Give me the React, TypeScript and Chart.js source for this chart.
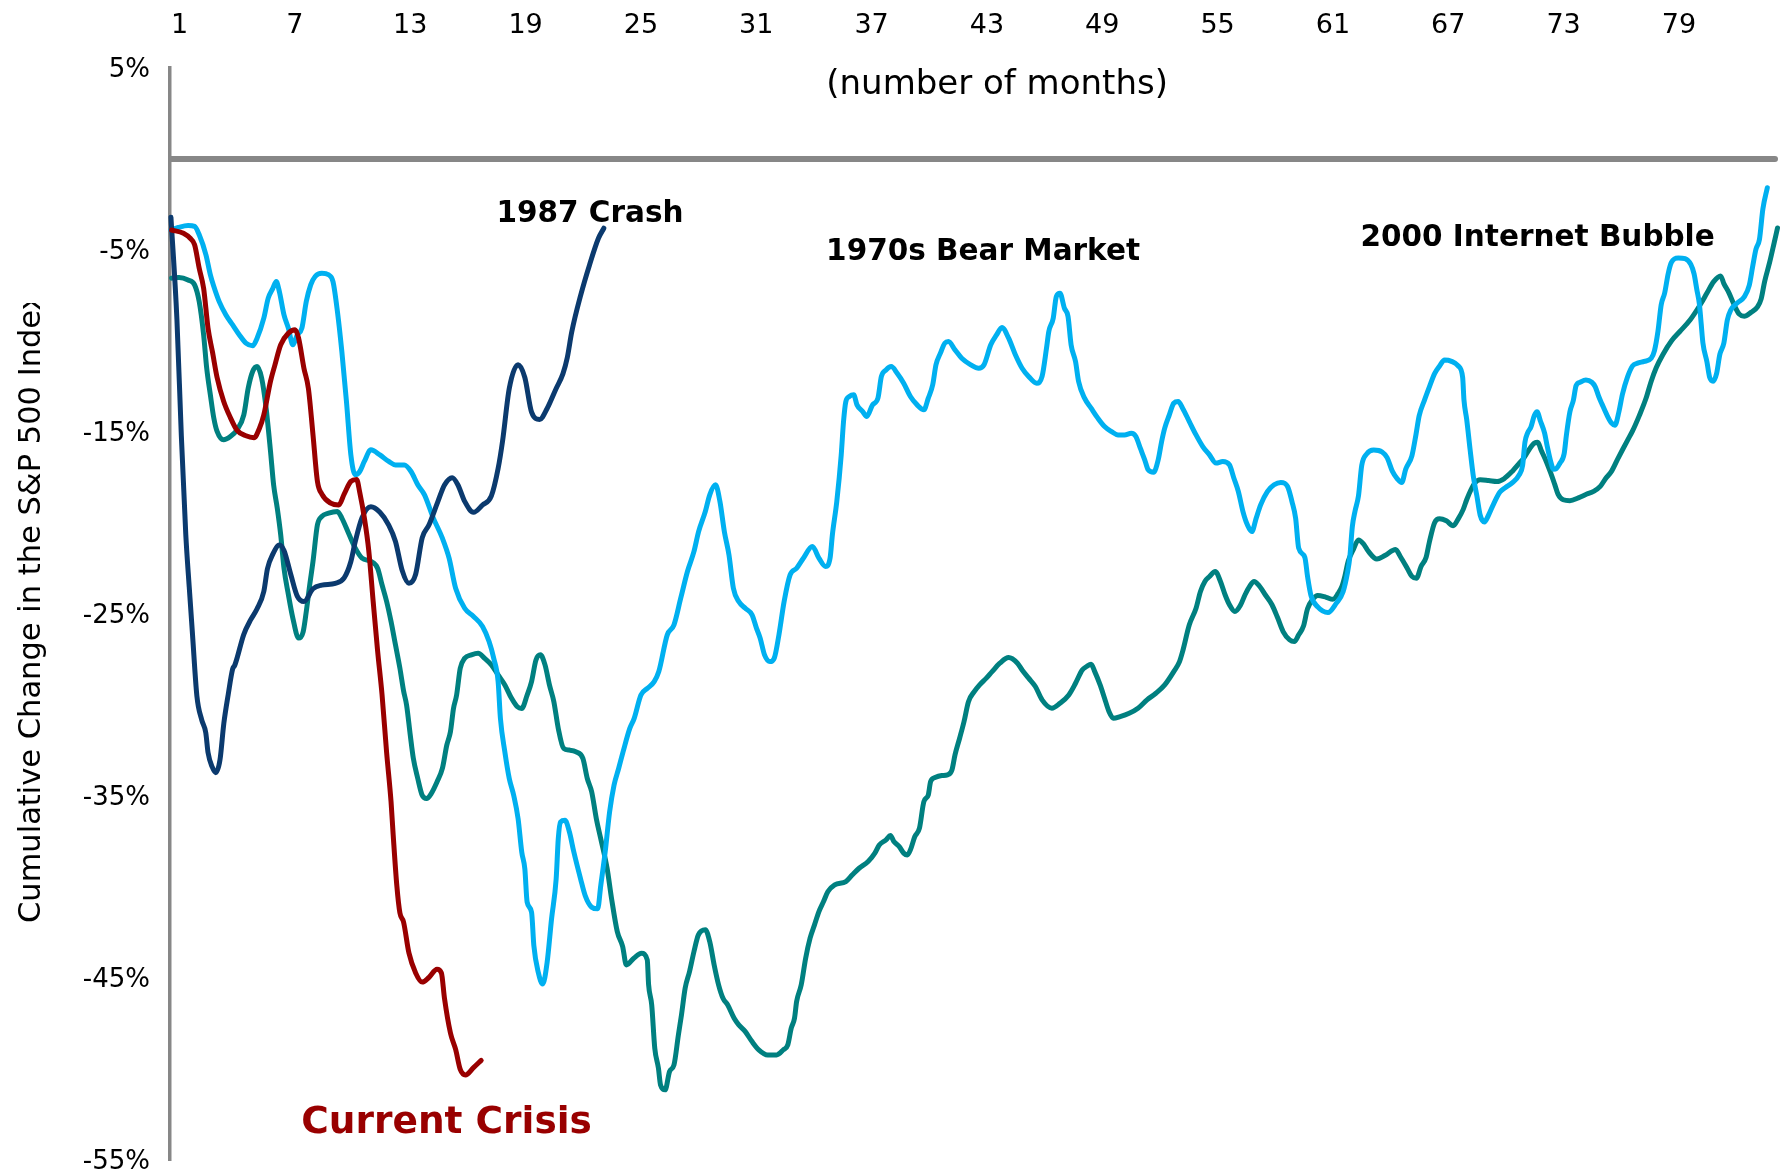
import React, { useEffect, useRef } from "react";
import { Chart, registerables } from "chart.js";

Chart.register(...registerables);

const FONT = "'DejaVu Sans', 'Verdana', sans-serif";

// Axis ticks
const MONTH_TICKS = [1, 7, 13, 19, 25, 31, 37, 43, 49, 55, 61, 67, 73, 79];
const PERCENT_TICKS = [5, -5, -15, -25, -35, -45, -55];

// Series: [month, cumulative % change]
const currentCrisis: number[][] = [
  [0.58, -3.9], [1.2, -4.07], [1.55, -4.35], [1.78, -4.71], [2.02, -6.0], [2.25, -7.1], [2.48, -9.3],
  [2.71, -10.6], [2.95, -12.0], [3.29, -13.3], [3.64, -14.2], [3.99, -14.9], [4.45, -15.2], [4.87, -15.3],
  [5.15, -14.8], [5.38, -14.05], [5.73, -12.2], [5.96, -11.3], [6.26, -10.2], [6.66, -9.56], [7.01, -9.38],
  [7.19, -9.84], [7.47, -11.5], [7.7, -12.6], [7.94, -15.15], [8.17, -17.7], [8.4, -18.4], [8.86, -18.9],
  [9.28, -19.0], [9.56, -18.4], [9.91, -17.7], [10.21, -17.6], [10.37, -18.3], [10.61, -19.7], [10.84, -21.5],
  [11.07, -24.3], [11.3, -27.0], [11.53, -29.4], [11.77, -32.6], [12.0, -35.3], [12.11, -37.1], [12.3, -39.9],
  [12.46, -41.4], [12.65, -41.9], [12.93, -43.6], [13.28, -44.7], [13.62, -45.2], [13.97, -44.95], [14.39, -44.5],
  [14.62, -44.7], [14.78, -46.1], [15.09, -48.0], [15.36, -48.9], [15.6, -50.0], [15.87, -50.3], [16.29, -49.9],
  [16.69, -49.5],
];

const crash1987: number[][] = [
  [0.55, -3.2], [0.86, -8.8], [1.09, -15.2], [1.32, -20.6], [1.5, -23.5], [1.67, -26.1], [1.9, -29.5],
  [2.15, -30.8], [2.36, -31.5], [2.48, -32.6], [2.7, -33.4], [2.88, -33.7], [3.1, -33.0], [3.3, -31.0],
  [3.53, -29.4], [3.76, -28.0], [3.87, -27.8], [4.34, -26.1], [4.7, -25.3], [5.03, -24.7], [5.38, -23.75],
  [5.57, -22.5], [5.85, -21.7], [6.19, -21.2], [6.43, -21.5], [6.78, -22.8], [7.12, -24.0], [7.47, -24.3],
  [7.94, -23.6], [8.4, -23.4], [9.1, -23.3], [9.56, -23.0], [9.91, -22.1], [10.14, -21.0], [10.49, -19.7],
  [10.95, -19.1], [11.42, -19.4], [11.88, -20.1], [12.23, -21.0], [12.58, -22.6], [12.93, -23.3], [13.28, -22.8],
  [13.62, -20.8], [13.97, -20.1], [14.44, -18.8], [14.78, -17.9], [15.18, -17.5], [15.48, -17.9], [15.83, -18.8],
  [16.29, -19.4], [16.76, -19.0], [17.22, -18.5], [17.57, -17.0], [17.8, -15.5], [18.15, -12.6], [18.61, -11.3],
  [18.96, -12.0], [19.31, -13.9], [19.73, -14.3], [20.12, -13.7], [20.59, -12.6], [20.94, -11.8], [21.17, -10.9],
  [21.4, -9.5], [21.86, -7.5], [22.33, -5.8], [22.79, -4.35], [23.07, -3.8],
];

const bearMarket1970s: number[][] = [
  [0.55, -3.9], [0.93, -3.76], [1.44, -3.65], [1.78, -3.7], [2.02, -4.16], [2.37, -5.26], [2.6, -6.36],
  [2.78, -7.0], [3.06, -7.83], [3.41, -8.56], [3.76, -9.11], [4.11, -9.66], [4.45, -10.11], [4.8, -10.26],
  [5.03, -9.84], [5.38, -8.74], [5.61, -7.64], [5.85, -7.1], [6.03, -6.73], [6.19, -7.28], [6.43, -8.56],
  [6.66, -9.29], [6.89, -10.2], [7.12, -9.66], [7.36, -9.29], [7.59, -7.83], [7.82, -6.91], [8.05, -6.45],
  [8.4, -6.27], [8.75, -6.36], [8.98, -6.73], [9.21, -8.37], [9.44, -10.57], [9.68, -13.32], [9.91, -16.25],
  [10.14, -17.34], [10.37, -17.16], [10.61, -16.61], [10.95, -15.97], [11.42, -16.25], [11.88, -16.61],
  [12.23, -16.8], [12.69, -16.8], [13.04, -17.16], [13.39, -17.89], [13.74, -18.44], [14.2, -19.72],
  [14.67, -20.82], [15.02, -21.92], [15.36, -23.57], [15.83, -24.67], [16.29, -25.12], [16.76, -25.67],
  [17.1, -26.5], [17.34, -27.41], [17.57, -28.69], [17.69, -30.72], [17.92, -32.56], [18.15, -34.02],
  [18.38, -34.94], [18.61, -36.23], [18.8, -38.06], [18.96, -38.98], [19.08, -40.81], [19.31, -41.36],
  [19.43, -43.2], [19.66, -44.67], [19.89, -45.31], [20.12, -44.12], [20.35, -41.73], [20.59, -39.53],
  [20.7, -37.33], [20.82, -36.41], [21.05, -36.32], [21.28, -36.96], [21.51, -38.06], [21.86, -39.53],
  [22.1, -40.45], [22.44, -41.09], [22.75, -41.18], [22.91, -39.9], [23.14, -38.06], [23.37, -35.86],
  [23.6, -34.39], [23.84, -33.47], [24.07, -32.56], [24.42, -31.27], [24.65, -30.72], [25.0, -29.44],
  [25.34, -29.07], [25.69, -28.7], [25.93, -28.15], [26.37, -26.13], [26.72, -25.58], [27.07, -24.12],
  [27.42, -22.65], [27.76, -21.55], [28.0, -20.46], [28.35, -19.36], [28.58, -18.44], [28.88, -17.89],
  [29.11, -18.81], [29.34, -20.46], [29.58, -21.74], [29.81, -23.57], [30.09, -24.3], [30.43, -24.67],
  [30.78, -25.03], [31.01, -25.76], [31.2, -26.3], [31.43, -27.23], [31.71, -27.6], [31.94, -27.4],
  [32.18, -26.13], [32.45, -24.3], [32.76, -22.84], [33.1, -22.47], [33.45, -21.92], [33.92, -21.28],
  [34.26, -21.92], [34.61, -22.38], [34.84, -21.92], [34.96, -20.64], [35.19, -18.81], [35.42, -16.25],
  [35.54, -14.42], [35.66, -13.32], [35.84, -13.04], [36.07, -12.95], [36.24, -13.5], [36.54, -13.87],
  [36.75, -14.14], [37.05, -13.5], [37.33, -13.13], [37.51, -11.94], [37.75, -11.58], [38.02, -11.4],
  [38.33, -11.76], [38.67, -12.31], [39.02, -13.04], [39.37, -13.5], [39.72, -13.77], [39.95, -13.13],
  [40.18, -12.4], [40.35, -11.3], [40.58, -10.66], [40.81, -10.11], [41.0, -10.02], [41.34, -10.48],
  [41.69, -10.94], [42.16, -11.3], [42.57, -11.49], [42.85, -11.3], [43.2, -10.2], [43.5, -9.66],
  [43.78, -9.25], [44.13, -9.84], [44.48, -10.75], [44.83, -11.49], [45.17, -11.94], [45.59, -12.31],
  [45.87, -11.94], [46.1, -10.39], [46.22, -9.47], [46.45, -8.74], [46.61, -7.55], [46.8, -7.37],
  [47.03, -8.19], [47.22, -8.65], [47.38, -10.2], [47.61, -11.12], [47.77, -12.22], [48.08, -13.13],
  [48.42, -13.68], [48.77, -14.23], [49.12, -14.69], [49.47, -14.96], [49.82, -15.15], [50.16, -15.15],
  [50.51, -15.06], [50.75, -15.24], [50.98, -15.88], [51.21, -16.52], [51.39, -17.07], [51.67, -17.2],
  [51.91, -16.52], [52.09, -15.51], [52.25, -14.78], [52.49, -14.05], [52.72, -13.41], [52.95, -13.32],
  [53.18, -13.68], [53.53, -14.42], [53.88, -15.15], [54.23, -15.79], [54.58, -16.25], [54.92, -16.7],
  [55.27, -16.61], [55.62, -16.8], [55.85, -17.53], [56.08, -18.26], [56.32, -19.36], [56.55, -20.09],
  [56.78, -20.46], [57.01, -19.72], [57.24, -18.99], [57.59, -18.26], [57.94, -17.89], [58.29, -17.76],
  [58.64, -17.98], [58.87, -18.81], [59.06, -19.72], [59.22, -21.37], [59.54, -21.87], [59.68, -22.92],
  [59.86, -23.97], [60.21, -24.6], [60.74, -24.91], [61.18, -24.39], [61.53, -23.76], [61.76, -22.71],
  [61.88, -21.87], [62.01, -20.19], [62.15, -19.34], [62.33, -18.5], [62.5, -16.82], [62.76, -16.19],
  [63.12, -15.98], [63.56, -16.09], [63.82, -16.4], [64.09, -17.14], [64.35, -17.56], [64.58, -17.77],
  [64.79, -17.03], [65.11, -16.3], [65.32, -15.14], [65.49, -14.09], [65.76, -13.25], [66.02, -12.51],
  [66.29, -11.78], [66.55, -11.36], [66.81, -11.04], [67.17, -11.11], [67.52, -11.36], [67.75, -11.99],
  [67.82, -13.25], [67.96, -14.3], [68.14, -15.98], [68.31, -17.45], [68.49, -18.5], [68.66, -19.55],
  [68.88, -19.93], [69.1, -19.55], [69.37, -18.92], [69.69, -18.29], [69.98, -18.04], [70.34, -17.77],
  [70.69, -17.35], [70.87, -16.82], [70.99, -15.56], [71.13, -15.04], [71.3, -14.72], [71.48, -14.09],
  [71.62, -13.88], [71.8, -14.4], [72.01, -15.04], [72.15, -15.77], [72.33, -16.61], [72.48, -17.03],
  [72.63, -16.99], [72.8, -16.72], [73.03, -16.19], [73.15, -15.14], [73.33, -13.88], [73.51, -13.25],
  [73.65, -12.45], [73.86, -12.26], [74.16, -12.14], [74.47, -12.26], [74.65, -12.51], [74.83, -13.04],
  [75.0, -13.46], [75.27, -14.09], [75.5, -14.51], [75.67, -14.62], [75.88, -13.88], [76.06, -12.93],
  [76.32, -11.99], [76.59, -11.36], [76.85, -11.21], [77.2, -11.11], [77.56, -10.94], [77.73, -10.52],
  [77.91, -9.47], [78.08, -8.0], [78.26, -7.36], [78.44, -6.31], [78.61, -5.68], [78.97, -5.43],
  [79.32, -5.47], [79.62, -5.79], [79.79, -6.31], [79.93, -7.15], [80.07, -8.0], [80.16, -9.05],
  [80.25, -10.1], [80.46, -11.15], [80.6, -11.99], [80.78, -12.2], [80.96, -11.78], [81.13, -10.73],
  [81.34, -10.1], [81.52, -8.84], [81.69, -8.31], [82.05, -7.89], [82.4, -7.57], [82.66, -6.94],
  [82.84, -5.89], [83.01, -4.95], [83.19, -4.42], [83.37, -2.74], [83.6, -1.58],
];

const internetBubble2000: number[][] = [
  [0.58, -6.54], [0.97, -6.5], [1.44, -6.64], [1.78, -6.91], [2.02, -7.83], [2.25, -9.66], [2.41, -11.49],
  [2.6, -12.95], [2.78, -14.23], [2.95, -14.96], [3.29, -15.42], [3.64, -15.24], [3.99, -14.87], [4.34, -14.05],
  [4.57, -12.58], [4.8, -11.67], [5.03, -11.4], [5.27, -12.04], [5.5, -13.68], [5.73, -16.06], [5.89, -17.89],
  [6.08, -19.17], [6.26, -20.64], [6.43, -22.47], [6.66, -23.93], [6.89, -25.21], [7.19, -26.31], [7.43, -25.95],
  [7.59, -24.85], [7.77, -23.38], [7.94, -22.1], [8.17, -20.09], [8.4, -19.63], [8.75, -19.45], [9.21, -19.36],
  [9.44, -19.72], [9.79, -20.55], [10.14, -21.37], [10.49, -21.92], [10.95, -22.1], [11.3, -22.47],
  [11.53, -23.38], [11.77, -24.3], [12.0, -25.4], [12.23, -26.68], [12.46, -27.96], [12.65, -29.2],
  [12.81, -30.0], [13.0, -31.64], [13.16, -32.92], [13.39, -34.02], [13.62, -34.94], [13.85, -35.12],
  [14.09, -34.85], [14.39, -34.21], [14.67, -33.47], [14.9, -32.19], [15.09, -31.45], [15.25, -30.17],
  [15.41, -29.44], [15.6, -27.97], [15.83, -27.42], [16.18, -27.23], [16.53, -27.14], [16.87, -27.42],
  [17.22, -27.78], [17.57, -28.33], [17.92, -28.88], [18.27, -29.62], [18.57, -30.08], [18.8, -30.17],
  [19.08, -29.44], [19.31, -28.7], [19.54, -27.51], [19.77, -27.23], [20.01, -27.78], [20.24, -28.88],
  [20.47, -29.8], [20.7, -31.27], [20.98, -32.37], [21.28, -32.46], [21.63, -32.56], [21.98, -32.92],
  [22.21, -34.02], [22.44, -34.76], [22.68, -36.23], [22.91, -37.33], [23.24, -38.95], [23.47, -40.6],
  [23.77, -42.43], [24.05, -43.25], [24.24, -44.26], [24.63, -43.89], [25.03, -43.62], [25.33, -43.98],
  [25.4, -45.35], [25.56, -46.45], [25.72, -48.83], [25.91, -49.93], [26.02, -50.85], [26.26, -51.12],
  [26.49, -50.11], [26.72, -49.75], [26.95, -48.1], [27.11, -47.0], [27.3, -45.54], [27.53, -44.62],
  [27.76, -43.52], [27.99, -42.61], [28.35, -42.33], [28.58, -42.98], [28.81, -44.26], [29.04, -45.35],
  [29.27, -46.09], [29.51, -46.45], [29.85, -47.19], [30.09, -47.55], [30.43, -47.92], [30.78, -48.47],
  [31.13, -48.92], [31.59, -49.2], [32.06, -49.2], [32.41, -48.92], [32.64, -48.65], [32.82, -47.73],
  [32.99, -47.19], [33.1, -46.27], [33.34, -45.35], [33.57, -43.89], [33.8, -42.79], [34.03, -42.06],
  [34.26, -41.33], [34.5, -40.78], [34.73, -40.23], [35.08, -39.86], [35.66, -39.68], [36.0, -39.31],
  [36.35, -38.95], [36.82, -38.58], [37.17, -38.12], [37.4, -37.67], [37.75, -37.39], [37.98, -37.15],
  [38.16, -37.48], [38.44, -37.76], [38.67, -38.12], [38.86, -38.22], [39.02, -37.94], [39.25, -37.21],
  [39.49, -36.75], [39.72, -35.29], [39.95, -34.92], [40.07, -34.19], [40.3, -33.97], [40.65, -33.86],
  [40.95, -33.82], [41.18, -33.55], [41.34, -32.72], [41.58, -31.81], [41.81, -30.89], [42.04, -29.8],
  [42.34, -29.25], [42.62, -28.88], [42.97, -28.51], [43.27, -28.15], [43.67, -27.69], [44.13, -27.38],
  [44.59, -27.69], [44.83, -28.06], [45.17, -28.51], [45.52, -28.97], [45.87, -29.7], [46.38, -30.16],
  [46.8, -29.89], [47.26, -29.43], [47.61, -28.79], [47.96, -28.06], [48.19, -27.87], [48.42, -27.75],
  [48.61, -28.15], [48.89, -28.88], [49.12, -29.61], [49.35, -30.34], [49.58, -30.71], [49.93, -30.62],
  [50.4, -30.44], [50.86, -30.16], [51.33, -29.7], [51.79, -29.34], [52.25, -28.88], [52.72, -28.15],
  [53.02, -27.6], [53.18, -27.05], [53.53, -25.58], [53.88, -24.67], [54.11, -23.75], [54.34, -23.2],
  [54.58, -22.93], [54.88, -22.65], [55.15, -23.2], [55.39, -23.93], [55.62, -24.48], [55.9, -24.85],
  [56.2, -24.48], [56.43, -23.93], [56.66, -23.48], [56.9, -23.2], [57.13, -23.39], [57.48, -23.93],
  [57.83, -24.48], [58.13, -25.21], [58.41, -25.95], [58.75, -26.41], [58.99, -26.5], [59.22, -26.13],
  [59.47, -25.65], [59.68, -24.7], [59.95, -24.18], [60.21, -23.97], [60.65, -24.07], [61.0, -24.18],
  [61.27, -23.86], [61.48, -23.44], [61.62, -22.92], [61.8, -22.08], [62.06, -21.45], [62.33, -20.92],
  [62.59, -21.13], [62.85, -21.55], [63.29, -21.97], [63.73, -21.76], [64.26, -21.45], [64.53, -21.87],
  [64.88, -22.5], [65.11, -22.92], [65.35, -23.02], [65.58, -22.39], [65.85, -21.87], [66.02, -21.03],
  [66.29, -19.97], [66.55, -19.76], [66.9, -19.87], [67.26, -20.14], [67.52, -19.76], [67.78, -19.24],
  [67.96, -18.71], [68.17, -18.19], [68.4, -17.77], [68.66, -17.62], [69.1, -17.66], [69.54, -17.71],
  [69.9, -17.56], [70.34, -17.14], [70.69, -16.72], [70.95, -16.4], [71.22, -15.94], [71.48, -15.6],
  [71.66, -15.56], [71.83, -15.98], [72.1, -16.61], [72.33, -17.24], [72.54, -17.87], [72.71, -18.4],
  [72.98, -18.71], [73.33, -18.76], [73.77, -18.61], [74.21, -18.4], [74.56, -18.25], [74.91, -17.98],
  [75.18, -17.56], [75.5, -17.14], [75.8, -16.51], [76.06, -15.98], [76.32, -15.46], [76.59, -14.93],
  [76.94, -14.09], [77.29, -13.14], [77.56, -12.2], [77.82, -11.46], [78.17, -10.73], [78.61, -9.99],
  [79.05, -9.47], [79.58, -8.84], [80.11, -8.0], [80.46, -7.36], [80.81, -6.73], [81.17, -6.42],
  [81.34, -6.84], [81.61, -7.36], [81.87, -8.0], [82.14, -8.52], [82.4, -8.63], [82.75, -8.42],
  [83.1, -8.1], [83.28, -7.68], [83.46, -6.73], [83.72, -5.68], [83.95, -4.63], [84.13, -3.79], [84.25, -3.16],
];

const SERIES_NAMES = ["Current Crisis", "1987 Crash", "1970s Bear Market", "2000 Internet Bubble"];
const SERIES_POINTS = [currentCrisis, crash1987, bearMarket1970s, internetBubble2000];
const SERIES_COLORS = ["#990000", "#0b3a6e", "#00b0f0", "#008080"];

// Annotation texts, anchored in data units (month, %)
const ANNOTATION_TEXTS = ["1987 Crash", "1970s Bear Market", "2000 Internet Bubble", "Current Crisis"];
const ANNOTATION_MONTHS = [22.35, 42.8, 71.65, 14.89];
const ANNOTATION_VALUES = [-3.46, -5.52, -4.8, -53.48];
const ANNOTATION_COLORS = ["#000000", "#000000", "#000000", "#990000"];
const ANNOTATION_SIZES = [29.5, 29.5, 29.5, 37.5];

const X_AXIS_TITLE = "(number of months)";
const X_TITLE_MONTH = 43.53;
const X_TITLE_VALUE = 4.07;
const Y_AXIS_TITLE = "Cumulative Change in the S&P 500 Index";

const overlayPlugin = {
  id: "overlay",
  beforeDatasetsDraw(chart: any) {
    const { ctx, chartArea, scales } = chart;
    const y0 = scales.y.getPixelForValue(0);
    ctx.save();
    ctx.strokeStyle = "#878787";
    ctx.fillStyle = "#878787";
    ctx.lineWidth = 6;
    ctx.lineCap = "butt";
    ctx.beginPath();
    ctx.moveTo(chartArea.left, y0);
    ctx.lineTo(chartArea.right, y0);
    ctx.stroke();
    ctx.beginPath();
    ctx.arc(chartArea.right, y0, 3, 0, Math.PI * 2);
    ctx.fill();
    ctx.restore();
  },
  afterDraw(chart: any) {
    const { ctx, scales } = chart;
    const xs = scales.x;
    const ys = scales.y;
    ctx.save();
    ctx.textAlign = "center";
    ctx.textBaseline = "alphabetic";
    ANNOTATION_TEXTS.forEach((t, i) => {
      ctx.font = `bold ${ANNOTATION_SIZES[i]}px ${FONT}`;
      ctx.fillStyle = ANNOTATION_COLORS[i];
      ctx.fillText(t, xs.getPixelForValue(ANNOTATION_MONTHS[i]), ys.getPixelForValue(ANNOTATION_VALUES[i]));
    });
    ctx.font = `34px ${FONT}`;
    ctx.fillStyle = "#000000";
    ctx.textBaseline = "middle";
    ctx.fillText(X_AXIS_TITLE, xs.getPixelForValue(X_TITLE_MONTH), ys.getPixelForValue(X_TITLE_VALUE));
    ctx.restore();

    // rotated y title, clipped at top as in the original
    ctx.save();
    ctx.beginPath();
    ctx.rect(0, 303, 160, chart.height - 303);
    ctx.clip();
    ctx.translate(40, 923);
    ctx.rotate(-Math.PI / 2);
    ctx.font = `30.5px ${FONT}`;
    ctx.fillStyle = "#000000";
    ctx.textAlign = "left";
    ctx.textBaseline = "alphabetic";
    ctx.fillText(Y_AXIS_TITLE, 0, 0);
    ctx.restore();
  },
};

export default function App() {
  const ref = useRef<HTMLCanvasElement>(null);
  useEffect(() => {
    const canvas = ref.current;
    if (!canvas) return;
    const chart = new Chart(canvas, {
      type: "line",
      data: {
        datasets: SERIES_NAMES.map((name, i) => ({
          label: name,
          data: SERIES_POINTS[i].map((p) => ({ x: p[0], y: p[1] })),
          borderColor: SERIES_COLORS[i],
          backgroundColor: SERIES_COLORS[i],
          borderWidth: 5,
          pointRadius: 0,
          fill: false,
          cubicInterpolationMode: "monotone",
          borderJoinStyle: "round",
          borderCapStyle: "round",
          clip: false,
        })),
      },
      options: {
        responsive: false,
        animation: false,
        devicePixelRatio: 1,
        layout: { autoPadding: false, padding: { left: 0, top: 0, right: 6, bottom: 13.5 } },
        plugins: { legend: { display: false }, tooltip: { enabled: false }, title: { display: false } },
        scales: {
          x: {
            type: "linear",
            position: "top",
            min: 0.5,
            max: 84,
            afterBuildTicks: (axis: any) => {
              axis.ticks = MONTH_TICKS.map((v) => ({ value: v }));
            },
            afterFit: (axis: any) => {
              axis.height = 68;
              axis.paddingLeft = 0;
              axis.paddingRight = 0;
            },
            grid: { display: false, drawTicks: false },
            border: { display: false },
            ticks: {
              color: "#000000",
              font: { family: FONT, size: 27 },
              padding: 26,
              maxRotation: 0,
              autoSkip: false,
              callback: (v: any) => String(v),
            },
          },
          y: {
            type: "linear",
            min: -55,
            max: 5,
            afterBuildTicks: (axis: any) => {
              axis.ticks = PERCENT_TICKS.map((v) => ({ value: v }));
            },
            afterFit: (axis: any) => {
              axis.width = 170;
              axis.paddingTop = 0;
              axis.paddingBottom = 0;
            },
            grid: { display: false, drawTicks: false },
            border: { display: true, color: "#878787", width: 3.5 },
            ticks: {
              color: "#000000",
              font: { family: FONT, size: 26 },
              padding: 20,
              labelOffset: 2,
              autoSkip: false,
              callback: (v: any) => `${v}%`,
            },
          },
        },
      },
      plugins: [overlayPlugin],
    } as any);
    return () => chart.destroy();
  }, []);
  return (
    <div style={{ position: "absolute", left: 0, top: 0, width: 1781, height: 1174, background: "#ffffff" }}>
      <canvas ref={ref} width={1781} height={1174} style={{ display: "block" }} />
    </div>
  );
}
